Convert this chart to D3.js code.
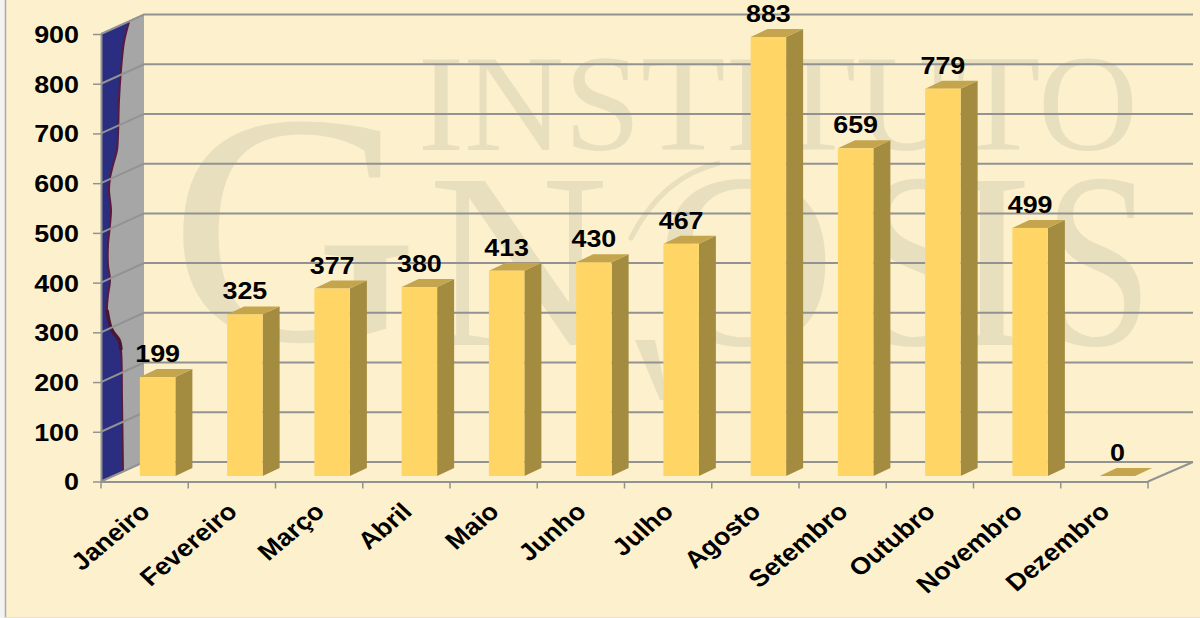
<!DOCTYPE html>
<html>
<head>
<meta charset="utf-8">
<script src="https://cdn.jsdelivr.net/npm/d3@7"></script>
<style>
html, body { margin: 0; padding: 0; background: #fdf1cd; overflow: hidden; }
text { font-family: "Liberation Sans", Arial, sans-serif; font-weight: bold; fill: #000; }
.marca text { font-family: "Liberation Serif", "Times New Roman", serif; font-weight: normal; fill: #e8dfbe; }
</style>
</head>
<body>
<div id="grafic"></div>
<script>
const mesos = ["Janeiro", "Fevereiro", "Março", "Abril", "Maio", "Junho", "Julho", "Agosto", "Setembro", "Outubro", "Novembro", "Dezembro"];
const valors = [199, 325, 377, 380, 413, 430, 467, 883, 659, 779, 499, 0];
const marquesY = [0, 100, 200, 300, 400, 500, 600, 700, 800, 900];

const amplada = 1200, alcada = 618;
const fons = {x0: 101, x1: 1148, y0: 481.5, y1: 34, dx: 43, dy: -19.5};
const barra = {ample: 35.5, dx: 17, dy: -8, despX: 13, despY: -5.5};
const gris = "#929292";

const svg = d3.select("#grafic").append("svg")
	.attr("width", amplada)
	.attr("height", alcada)
	.style("display", "block");

const x = d3.scaleBand().domain(mesos).range([fons.x0, fons.x1]);
const y = d3.scaleLinear().domain([0, 900]).range([fons.y0, fons.y1]);

// marc de la diapositiva
svg.append("rect").attr("width", 5).attr("height", alcada).attr("fill", "#f3f3f1");
svg.append("line").attr("x1", 5.5).attr("x2", 5.5).attr("y1", 0).attr("y2", alcada)
	.attr("stroke", "#a8a8a8").attr("stroke-width", 1.5);
svg.append("line").attr("x1", 5).attr("x2", amplada).attr("y1", 617.5).attr("y2", 617.5)
	.attr("stroke", "#e6e0cc").attr("stroke-width", 1);

// marca d'aigua
const marca = svg.append("g").attr("class", "marca");
marca.append("text").attr("font-size", 137)
	.attr("transform", "translate(418,150) scale(1.01,1)")
	.text("INSTITUTO");
const lletres = [
	{t: "G", x: 169, y: 340, mida: 330, sx: 1.05},
	{t: "N", x: 428, y: 345, mida: 250, sx: 1},
	{t: "O", x: 655, y: 345, mida: 250, sx: 1},
	{t: "S", x: 858, y: 345, mida: 250, sx: 0.85},
	{t: "I", x: 950, y: 345, mida: 250, sx: 1},
	{t: "S", x: 1044, y: 345, mida: 250, sx: 0.78}
];
marca.selectAll("text.lletra").data(lletres).enter().append("text")
	.attr("class", "lletra")
	.attr("font-size", d => d.mida)
	.attr("transform", d => `translate(${d.x},${d.y}) scale(${d.sx},1)`)
	.text(d => d.t);
marca.append("path")
	.attr("d", "M720,163 C680,172 650,200 630,240")
	.attr("fill", "none").attr("stroke", "#e8dfbe").attr("stroke-width", 5);
marca.append("path")
	.attr("d", "M635,340 L655,340 L668,400 L660,400 Z")
	.attr("fill", "#e8dfbe");

// paret lateral
svg.append("polygon")
	.attr("points", [
		[fons.x0, y(900)], [fons.x0 + fons.dx, y(900) + fons.dy],
		[fons.x0 + fons.dx, y(0) + fons.dy], [fons.x0, y(0)]
	].join(" "))
	.attr("fill", "#a6a6a6");

// taca blava de la paret
const vora = [[129, 22], [124, 42], [121, 70], [119, 100], [118, 135], [117, 150], [113, 165], [110, 178], [109, 190],
	[111, 210], [110, 225], [108, 245], [108, 265], [110, 280], [108, 295], [107, 310], [110, 325], [113, 332],
	[119, 340], [121, 350], [122, 400], [123, 472]];
const linia = d3.line().curve(d3.curveCatmullRom);
svg.append("path")
	.attr("d", linia(vora) + `L${fons.x0},${y(0)}L${fons.x0},${y(900)}Z`)
	.attr("fill", "#2a2d80");
svg.append("path")
	.attr("d", linia(vora))
	.attr("fill", "none").attr("stroke", "#5a1a3c").attr("stroke-width", 2);
svg.append("path")
	.attr("d", linia(vora.slice(15, 20)))
	.attr("fill", "none").attr("stroke", "#4a1634").attr("stroke-width", 3.5);

// graella
const graella = svg.append("g");
graella.selectAll("polyline").data(marquesY).enter().append("polyline")
	.attr("points", d => [
		[fons.x0, y(d)], [fons.x0 + fons.dx, y(d) + fons.dy], [fons.x1 + fons.dx + 2, y(d) + fons.dy]
	].join(" "))
	.attr("fill", "none")
	.attr("stroke", gris)
	.attr("stroke-width", 2);
svg.append("line")
	.attr("x1", fons.x1).attr("y1", y(0))
	.attr("x2", fons.x1 + fons.dx + 2).attr("y2", y(0) + fons.dy)
	.attr("stroke", gris).attr("stroke-width", 2);

// eixos
const eixY = svg.append("g")
	.attr("transform", `translate(${fons.x0},0)`)
	.call(d3.axisLeft(y).tickValues(marquesY).tickSize(8).tickSizeOuter(0).tickPadding(0));
eixY.selectAll("text")
	.attr("x", null).attr("dy", null)
	.attr("text-anchor", "end")
	.attr("dominant-baseline", "central")
	.attr("font-size", 24)
	.attr("transform", "translate(-22,0) scale(1.12,1)");

const eixX = svg.append("g")
	.attr("transform", `translate(0,${fons.y0})`)
	.call(d3.axisBottom(x).tickValues([]).tickSize(0).tickSizeOuter(0));
eixX.selectAll("line.marca-x").data(d3.range(mesos.length + 1)).enter().append("line")
	.attr("class", "marca-x")
	.attr("x1", i => fons.x0 + i * x.step()).attr("x2", i => fons.x0 + i * x.step())
	.attr("y1", 0).attr("y2", 7)
	.attr("stroke", gris).attr("stroke-width", 1.5);
eixX.selectAll("text.mes").data(mesos).enter().append("text")
	.attr("class", "mes")
	.attr("text-anchor", "end")
	.attr("font-size", 24)
	.attr("transform", d => `translate(${x(d) + x.step() / 2 + 7},${32}) scale(1.12,1) rotate(-43)`)
	.text(d => d);
svg.selectAll(".domain").attr("stroke", gris).attr("stroke-width", 2);
eixY.selectAll(".tick line").attr("stroke", gris).attr("stroke-width", 1.5);

// barres
const esqBarra = d => x(d) + (x.step() - barra.ample) / 2 + barra.despX;
const baseBarra = fons.y0 + barra.despY;
const dalt = v => y(v) + barra.despY;
const barres = svg.append("g").selectAll("g").data(mesos.map((m, i) => ({mes: m, valor: valors[i]}))).enter().append("g");
barres.append("polygon") // lateral
	.attr("points", d => {
		const xd = esqBarra(d.mes) + barra.ample;
		return [[xd, dalt(d.valor)], [xd + barra.dx, dalt(d.valor) + barra.dy], [xd + barra.dx, baseBarra + barra.dy], [xd, baseBarra]].join(" ");
	})
	.attr("fill", "#a38b40");
barres.append("polygon") // tapa
	.attr("points", d => {
		const xe = esqBarra(d.mes);
		return [[xe, dalt(d.valor)], [xe + barra.dx, dalt(d.valor) + barra.dy], [xe + barra.ample + barra.dx, dalt(d.valor) + barra.dy], [xe + barra.ample, dalt(d.valor)]].join(" ");
	})
	.attr("fill", "#c4a44c");
barres.append("rect") // front
	.attr("x", d => esqBarra(d.mes))
	.attr("y", d => dalt(d.valor))
	.attr("width", barra.ample)
	.attr("height", d => baseBarra - dalt(d.valor))
	.attr("fill", "#ffd666");
barres.append("text")
	.attr("text-anchor", "middle")
	.attr("font-size", 24)
	.attr("transform", d => `translate(${esqBarra(d.mes) + barra.ample / 2},${dalt(d.valor) - 15}) scale(1.12,1)`)
	.text(d => d.valor);
</script>
</body>
</html>
